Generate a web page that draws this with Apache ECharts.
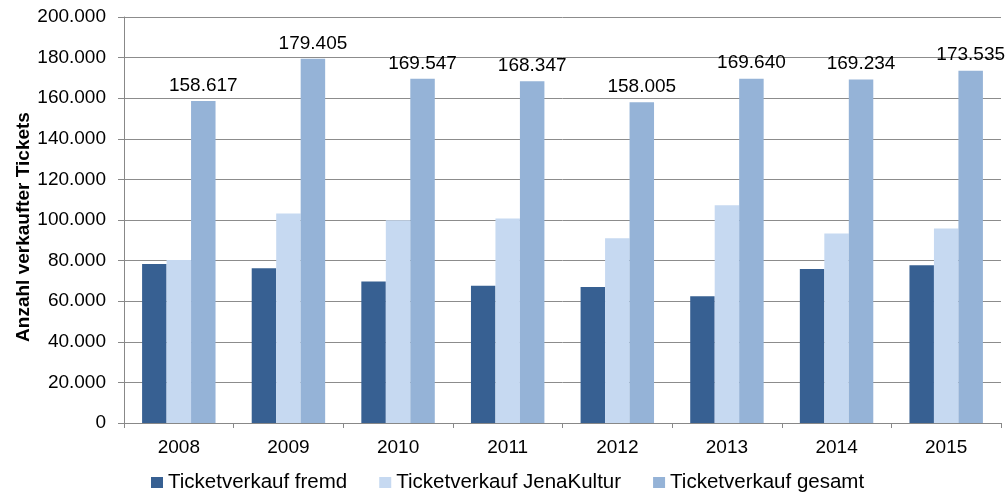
<!DOCTYPE html>
<html>
<head>
<meta charset="utf-8">
<script src="https://cdn.jsdelivr.net/npm/echarts@6/dist/echarts.min.js"></script>
<style>
  html, body { margin: 0; padding: 0; background: #fff; }
  #chart { width: 1008px; height: 500px; }
</style>
</head>
<body>
<div id="chart"></div>
<script>
// Ticket sales per year
const years = ['2008', '2009', '2010', '2011', '2012', '2013', '2014', '2015'];
const ticketsFremd = [78310, 76210, 69700, 67620, 66980, 62400, 75830, 77710];
const ticketsJenaKultur = [80307, 103195, 99847, 100727, 91025, 107240, 93404, 95825];
const ticketsGesamt = [158617, 179405, 169547, 168347, 158005, 169640, 169234, 173535];
const seriesNames = ['Ticketverkauf fremd', 'Ticketverkauf JenaKultur', 'Ticketverkauf gesamt'];

const fontFamily = '"Liberation Sans", Arial, sans-serif';
const fontSize = 19;
const fmt = v => String(Math.round(v)).replace(/\B(?=(\d{3})+(?!\d))/g, '.');

const chart = echarts.init(document.getElementById('chart'));
chart.setOption({
  animation: false,
  textStyle: { fontFamily },
  grid: {
    left: 124, right: 7, top: 17, bottom: 77,
    containLabel: false,
    outerBoundsMode: 'none'
  },
  legend: {
    bottom: 2,
    left: 146,
    itemWidth: 12,
    itemHeight: 11,
    itemGap: 32,
    icon: 'rect',
    textStyle: { fontSize: 20.5, color: '#000', fontFamily },
    data: seriesNames
  },
  xAxis: {
    type: 'category',
    data: years,
    axisLine: { lineStyle: { color: '#888', width: 1 } },
    axisTick: { show: true, length: 5, lineStyle: { color: '#888' } },
    axisLabel: { fontSize, color: '#000', margin: 15, fontFamily }
  },
  yAxis: {
    type: 'value',
    min: 0,
    max: 200000,
    interval: 20000,
    name: 'Anzahl verkaufter Tickets',
    nameLocation: 'middle',
    nameRotate: 90,
    nameGap: 91,
    nameMoveOverlap: false,
    nameTextStyle: {
      fontSize, fontWeight: 'bold', color: '#000', fontFamily,
      padding: [0, 14, 0, 0]
    },
    axisLine: { show: true, lineStyle: { color: '#888', width: 1 } },
    axisTick: { show: true, length: 6, inside: false, lineStyle: { color: '#888' } },
    axisLabel: { fontSize, color: '#000', margin: 18, formatter: fmt, fontFamily },
    splitLine: { lineStyle: { color: '#8c8c8c', width: 1 } }
  },
  series: [
    {
      name: seriesNames[0],
      type: 'bar',
      data: ticketsFremd,
      barGap: '0%',
      barCategoryGap: '33%',
      itemStyle: { color: '#376092' }
    },
    {
      name: seriesNames[1],
      type: 'bar',
      data: ticketsJenaKultur,
      barGap: '0%',
      barCategoryGap: '33%',
      itemStyle: { color: '#C6D9F1' }
    },
    {
      name: seriesNames[2],
      type: 'bar',
      data: ticketsGesamt,
      barGap: '0%',
      barCategoryGap: '33%',
      itemStyle: { color: '#95B3D7' },
      label: {
        show: true,
        position: 'top',
        distance: 6,
        fontSize,
        color: '#000',
        fontFamily,
        formatter: p => fmt(p.value)
      }
    }
  ]
});
</script>
</body>
</html>
